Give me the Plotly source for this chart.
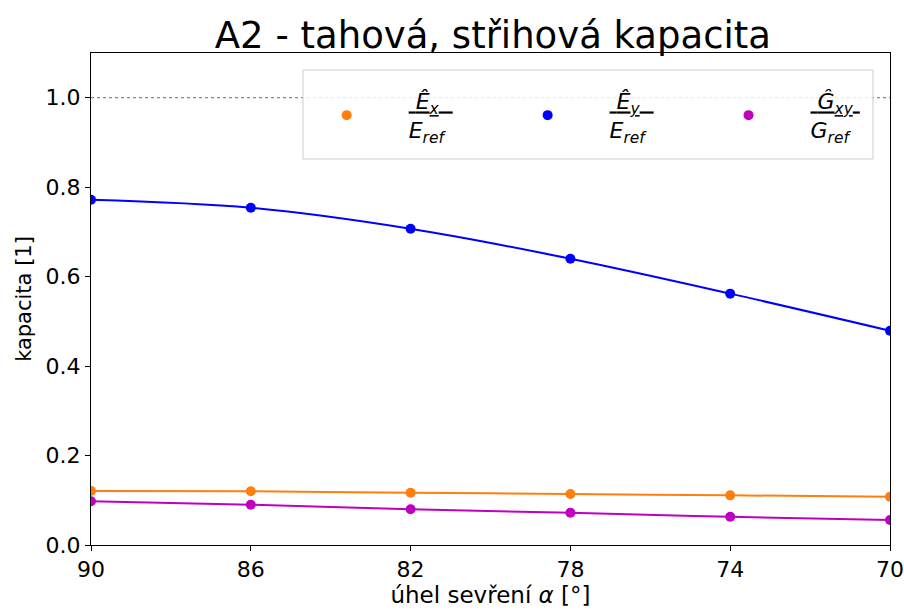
import plotly.graph_objects as go

angles = [90, 86, 82, 78, 74, 70]
tick_vals = [90, 86, 82, 78, 74, 70]
ex_vals = [0.121, 0.120, 0.117, 0.114, 0.111, 0.108]
ey_vals = [0.772, 0.754, 0.707, 0.640, 0.562, 0.479]
gxy_vals = [0.098, 0.090, 0.080, 0.072, 0.063, 0.056]

pad = "&nbsp;" * 6
trail = "&nbsp;" * 10
series = [
    (pad + "<u>&nbsp;<i>Ê<sub>x</sub></i>&nbsp;&nbsp;</u>" + trail + "<br>" + pad + "<i>E<sub>ref</sub></i>", ex_vals, "#ff7f0e"),
    (pad + "<u>&nbsp;<i>Ê<sub>y</sub></i>&nbsp;&nbsp;</u>" + trail + "<br>" + pad + "<i>E<sub>ref</sub></i>", ey_vals, "#0000ff"),
    (pad + "<u>&nbsp;<i>Ĝ<sub>xy</sub></i>&nbsp;</u><br>" + pad + "<i>G<sub>ref</sub></i>", gxy_vals, "#bf00bf"),
]

fig = go.Figure()
for name, vals, col in series:
    fig.add_trace(go.Scatter(x=angles, y=vals, mode="lines", line=dict(color=col, width=2, shape="spline", smoothing=1.0),
                             showlegend=False, hoverinfo="skip"))
for name, vals, col in series:
    fig.add_trace(go.Scatter(x=angles, y=vals, mode="markers", name=name,
                             marker=dict(color=col, size=10)))

fig.add_hline(y=1.0, line=dict(color="#444444", width=0.8, dash="dot"))
# legend frame
fig.add_shape(type="rect", xref="paper", yref="paper", x0=0.2653, x1=0.9787, y0=0.7846, y1=0.9654,
              line=dict(color="#cccccc", width=1), fillcolor="rgba(255,255,255,0.8)", layer="above")

font = "DejaVu Sans, sans-serif"
fig.update_layout(
    width=904, height=612,
    margin=dict(l=91, r=14, t=53, b=67),
    paper_bgcolor="white", plot_bgcolor="white",
    title=dict(text="A2 - tahová, střihová kapacita", xref="paper", x=0.503, xanchor="center", y=0.943, yanchor="middle",
               font=dict(family=font, size=37, color="black")),
    font=dict(family=font, color="black"),
    legend=dict(orientation="h", x=0.295, y=0.945, xanchor="left", yanchor="top",
                bgcolor="rgba(0,0,0,0)", borderwidth=0,
                font=dict(family=font, size=22, color="black")),
    xaxis=dict(range=[90, 70], tickvals=tick_vals, ticks="outside", ticklen=5, tickcolor="black",
               showline=True, linecolor="black", linewidth=1, mirror=True, showgrid=False, zeroline=False,
               tickfont=dict(size=22, family=font), automargin=False,
               title=dict(text="úhel sevření <i>α</i> [°]", font=dict(size=23, family=font), standoff=2)),
    yaxis=dict(range=[0, 1.1], tickvals=[0, 0.2, 0.4, 0.6, 0.8, 1.0], ticktext=["0.0", "0.2", "0.4", "0.6", "0.8", "1.0"],
               ticks="outside", ticklen=5, tickcolor="black",
               showline=True, linecolor="black", linewidth=1, mirror=True, showgrid=False, zeroline=False,
               tickfont=dict(size=22, family=font), automargin=False,
               title=dict(text="kapacita [1]", font=dict(size=21, family=font), standoff=8)),
)

fig.write_html("out.html", post_script="document.body.style.margin='0';", config={"displayModeBar": False})
